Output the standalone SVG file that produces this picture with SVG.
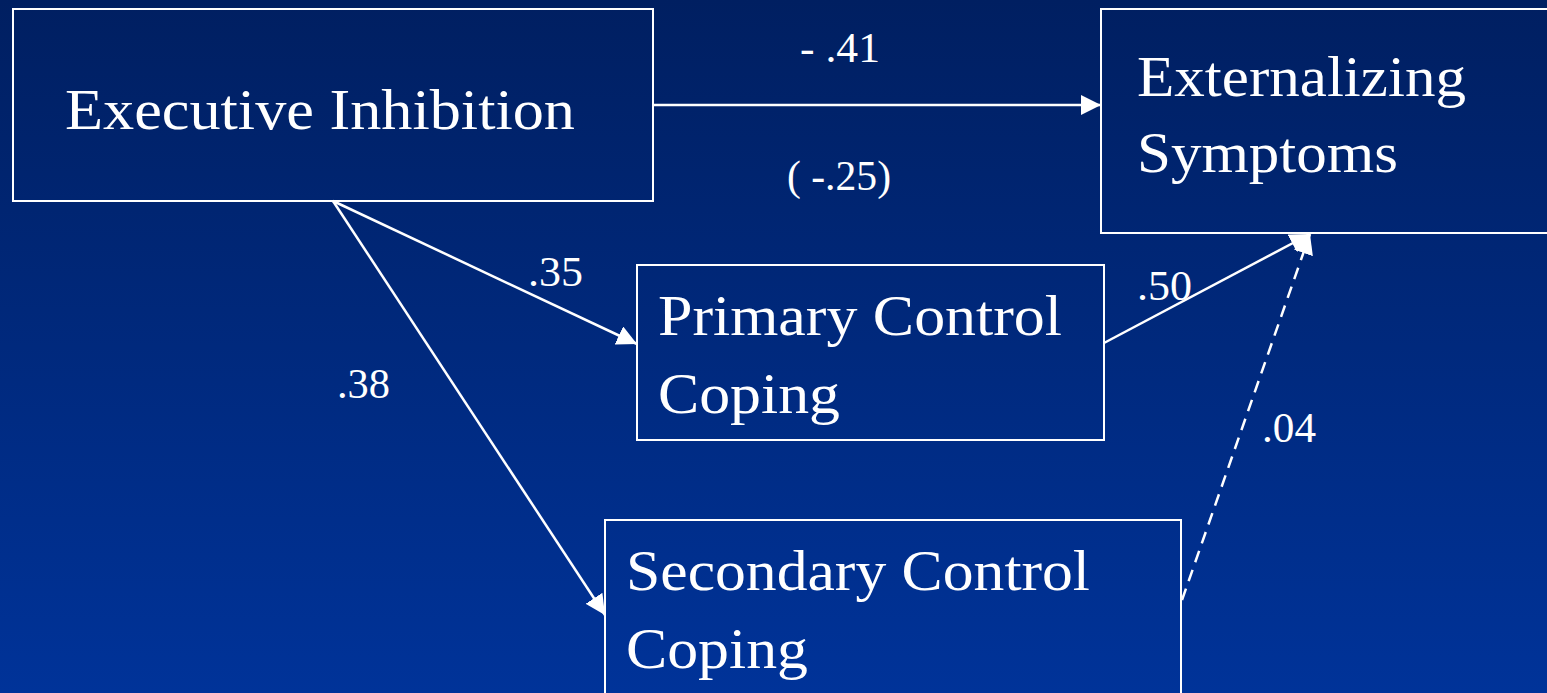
<svg xmlns="http://www.w3.org/2000/svg" width="1547" height="693" viewBox="0 0 1547 693">
<defs>
<linearGradient id="bg" x1="0" y1="0" x2="0" y2="1">
<stop offset="0" stop-color="#001f61"/>
<stop offset="1" stop-color="#003399"/>
</linearGradient>
<marker id="ah" viewBox="0 0 10 10" refX="10" refY="5" markerWidth="20" markerHeight="20" markerUnits="userSpaceOnUse" orient="auto">
<path d="M0,0 L10,5 L0,10 Z" fill="#fff"/>
</marker>
<style>
.box{fill:none;stroke:#fff;stroke-width:2}
.t{font-family:"Liberation Serif","Times New Roman",serif;font-size:58px;fill:#fff}
.l{font-family:"Liberation Serif","Times New Roman",serif;font-size:42px;fill:#fff}
.c{fill:none;stroke:#fff;stroke-width:2.5}
.d{stroke-dasharray:12,8}
</style>
</defs>
<rect width="1547" height="693" fill="url(#bg)"/>
<g id="executive-inhibition">
<rect class="box" x="13" y="9" width="640" height="192"/>
<text class="t" x="65" y="129" textLength="510" lengthAdjust="spacingAndGlyphs">Executive Inhibition</text>
</g>
<g id="externalizing-symptoms">
<rect class="box" x="1101" y="9" width="460" height="224"/>
<text class="t" x="1137" y="96" textLength="329" lengthAdjust="spacingAndGlyphs">Externalizing</text>
<text class="t" x="1137" y="172" textLength="261" lengthAdjust="spacingAndGlyphs">Symptoms</text>
</g>
<g id="primary-control-coping">
<rect class="box" x="637" y="265" width="467" height="175"/>
<text class="t" x="658" y="335" textLength="404" lengthAdjust="spacingAndGlyphs">Primary Control</text>
<text class="t" x="658" y="413" textLength="182" lengthAdjust="spacingAndGlyphs">Coping</text>
</g>
<g id="secondary-control-coping">
<rect class="box" x="605" y="520" width="576" height="200"/>
<text class="t" x="626" y="590" textLength="464" lengthAdjust="spacingAndGlyphs">Secondary Control</text>
<text class="t" x="626" y="668" textLength="182" lengthAdjust="spacingAndGlyphs">Coping</text>
</g>
<g id="connectors">
<line class="c" x1="653" y1="105" x2="1101" y2="105" marker-end="url(#ah)"/>
<line class="c" x1="333" y1="201" x2="637" y2="344" marker-end="url(#ah)"/>
<line class="c" x1="333" y1="201" x2="605" y2="615" marker-end="url(#ah)"/>
<line class="c" x1="1104" y1="343" x2="1310" y2="234" marker-end="url(#ah)"/>
<line class="c d" x1="1182" y1="600" x2="1310" y2="234" marker-end="url(#ah)"/>
<text class="l" x="800" y="62" textLength="80" lengthAdjust="spacingAndGlyphs">- .41</text>
<text class="l" x="787" y="190" textLength="104" lengthAdjust="spacingAndGlyphs">( -.25)</text>
<text class="l" x="528" y="286" textLength="55" lengthAdjust="spacingAndGlyphs">.35</text>
<text class="l" x="1137" y="300" textLength="55" lengthAdjust="spacingAndGlyphs">.50</text>
<text class="l" x="337" y="398" textLength="53" lengthAdjust="spacingAndGlyphs">.38</text>
<text class="l" x="1262" y="442" textLength="54" lengthAdjust="spacingAndGlyphs">.04</text>
</g>
</svg>
